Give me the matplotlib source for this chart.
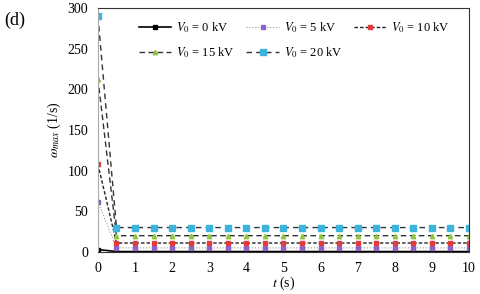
import numpy as np
import matplotlib.pyplot as plt

t = np.arange(0, 10.5, 0.5)
w0 = [3] + [0.5] * 20
w5 = [62] + [5] * 20
w10 = [108] + [11] * 20
w15 = [213] + [20] * 20
w20 = [290] + [30] * 20

labels = ['0', '5', '10', '15', '20']

plt.rcParams['font.family'] = ['Liberation Serif', 'DejaVu Serif']
plt.rcParams['mathtext.fontset'] = 'stix'

fig = plt.figure(figsize=(4.8, 2.94), dpi=100)
ax = fig.add_axes([0.204, 0.143, 0.773, 0.830])

l0, = ax.plot(t, w0, color='black', lw=1.2, ls='-', marker='s', ms=2.2, mfc='black', mec='black')
l5, = ax.plot(t, w5, color='#999999', lw=0.8, ls=':', marker='s', ms=2.5, mfc='#8a64c8', mec='#8a64c8')
l10, = ax.plot(t, w10, color='#222222', lw=1.0, ls=(0, (2.5, 1.5)), marker='s', ms=2.5, mfc='#e03c3c', mec='#e03c3c')
l15, = ax.plot(t, w15, color='#333333', lw=1.0, ls=(0, (4, 2.5)), marker='^', ms=3.2, mfc='#8ec63f', mec='#8ec63f')
l20, = ax.plot(t, w20, color='#333333', lw=1.0, ls=(0, (4, 3)), marker='s', ms=4, mfc='#3cb4dc', mec='#3cb4dc')

# column-major fill: row 1 = 0, 5, 10 ; row 2 = 15, 20
handles = [l0, l15, l5, l20, l10]
names = [labels[i] for i in [0, 3, 1, 4, 2]]
leg = ax.legend(handles, [r'$V_0$ = %s kV' % v for v in names], ncol=3, frameon=False,
                loc='upper left', bbox_to_anchor=(0.08, 0.995), fontsize=9,
                handlelength=2.6, columnspacing=0.9, handletextpad=0.4, labelspacing=0.8)

ax.set_xlim(0, 10)
ax.set_ylim(0, 300)
ax.set_xticks(range(0, 11))
ax.set_yticks(range(0, 301, 50))
ax.tick_params(length=0, labelsize=10, pad=7)
for s in ['top', 'right', 'bottom']:
    ax.spines[s].set_color('#333333')
ax.spines['left'].set_color('#aaaaaa')

ax.set_xlabel(r'$t$ (s)', fontsize=10, labelpad=0)
ax.set_ylabel(r'$\omega_{max}$ (1/s)', fontsize=10, labelpad=3)
fig.text(0.008, 0.915, '(d)', fontsize=13)

fig.savefig('out.png', dpi=100)
